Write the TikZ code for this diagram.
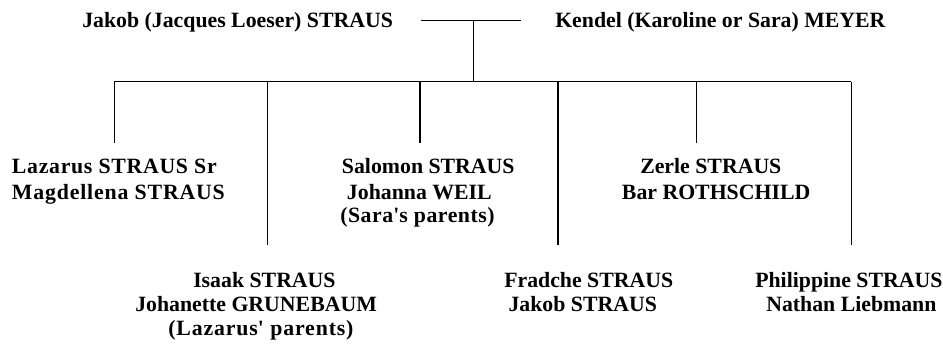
\documentclass[tikz,border=0pt]{standalone}
\usepackage{fontspec}
\setmainfont{Liberation Serif}
\newcommand{\ls}[1]{\addfontfeatures{LetterSpace=#1}}
\begin{document}
\begin{tikzpicture}[x=0.75pt,y=-0.75pt,
  lbl/.style={anchor=base west,inner sep=0pt,font=\fontsize{16.35pt}{19pt}\selectfont\bfseries},
  link/.style={line width=1pt,black}]
\useasboundingbox (0,0) rectangle (943,343);
% parents
\node[lbl] (jakob) at (82,27.5) {Jakob (Jacques Loeser) STRAUS};
\node[lbl] (kendel) at (555,27.5) {Kendel (Karoline or Sara) MEYER};
\coordinate (mL) at (420.7,20.7);
\coordinate (mR) at (520.7,20.7);
\coordinate (mC) at (473.3,20.7);
\coordinate (bC) at (473.3,81.7);
\coordinate (bL) at (114.3,81.7);
\coordinate (bR) at (851.3,81.7);
\draw[link] (mL) -- (mR);
\draw[link] (mC) -- (bC);
\draw[link] (bL) -- (bR);
% drops
\foreach \n/\x/\e in {c1/114.3/143, c2/267.5/245, c3/420/143, c4/558/245, c5/696.5/143, c6/851.3/245}{
  \coordinate (\n t) at (\x,81.7);
  \coordinate (\n b) at (\x,\e);
  \draw[link] (\n t) -- (\n b);
}
% row 2
\node[lbl] (laz1) at (11.7,173.3) {\ls{3.2}Lazarus STRAUS Sr};
\node[lbl] (laz2) at (11.7,199.3) {\ls{3.8}Magdellena STRAUS};
\node[lbl] (sal1) at (341.7,173.3) {Salomon STRAUS};
\node[lbl] (sal2) at (346.7,199.3) {Johanna WEIL};
\node[lbl] (sal3) at (340,222) {\ls{2.5}(Sara\textquotesingle s parents)};
\node[lbl] (zer1) at (640,173.3) {Zerle STRAUS};
\node[lbl] (zer2) at (621.7,199.3) {Bar ROTHSCHILD};
% row 3
\node[lbl] (isa1) at (193,287) {Isaak STRAUS};
\node[lbl] (isa2) at (135,311.7) {Johanette GRUNEBAUM};
\node[lbl] (isa3) at (168,335) {\ls{4}(Lazarus\textquotesingle{} parents)};
\node[lbl] (fra1) at (504,287) {Fradche STRAUS};
\node[lbl] (fra2) at (508.3,311.7) {Jakob STRAUS};
\node[lbl] (phi1) at (755,287) {Philippine STRAUS};
\node[lbl] (phi2) at (766,311.7) {Nathan Liebmann};
\end{tikzpicture}
\end{document}
